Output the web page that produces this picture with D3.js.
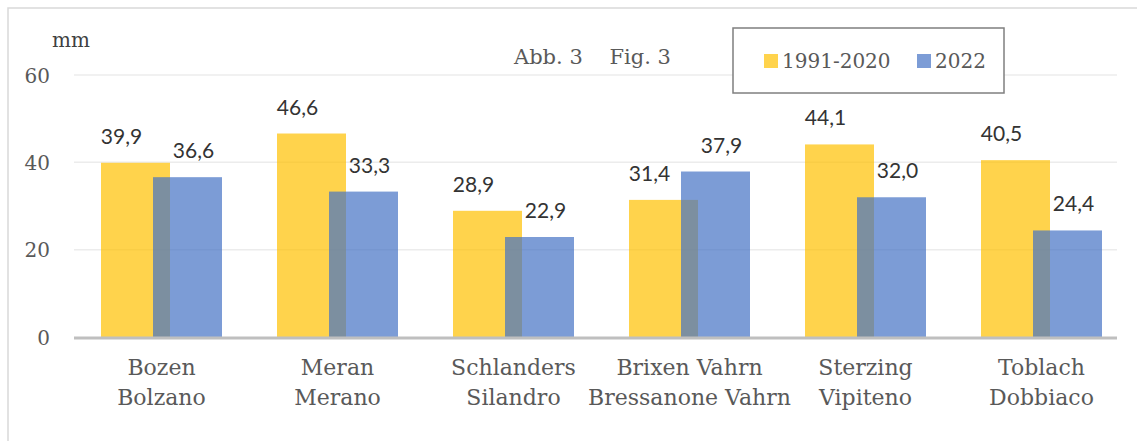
<!DOCTYPE html>
<html>
<head>
<meta charset="utf-8">
<script src="https://cdn.jsdelivr.net/npm/d3@7"></script>
<style>
  body { margin: 0; background: #fff; }
  svg text { white-space: pre; }
</style>
</head>
<body>
<div id="chart"></div>
<script>
var stations = [
    ["Bozen", "Bolzano"],
    ["Meran", "Merano"],
    ["Schlanders", "Silandro"],
    ["Brixen Vahrn", "Bressanone Vahrn"],
    ["Sterzing", "Vipiteno"],
    ["Toblach", "Dobbiaco"]
];
var normal = [39.9, 46.6, 28.9, 31.4, 44.1, 40.5];   // 1991-2020
var year2022 = [36.6, 33.3, 22.9, 37.9, 32.0, 24.4];
var seriesNames = ["1991-2020", "2022"];
var yTicks = [0, 20, 40, 60];

var width = 1137,
    height = 441;
var serif = "'DejaVu Serif', serif";
var sans = "Lato, 'Open Sans', sans-serif";
var colors = ["#FFC000", "#4472C4"];

var svg = d3.select("#chart").append("svg")
    .attr("width", width)
    .attr("height", height);

// chart area border
svg.append("rect")
    .attr("x", 8).attr("y", 8)
    .attr("width", width).attr("height", height)
    .attr("fill", "none")
    .attr("stroke", "#d9d9d9")
    .attr("stroke-width", 1.5);

var x = d3.scaleBand()
    .domain(d3.range(stations.length))
    .range([73.5, 1129.5]);

var y = d3.scaleLinear()
    .domain([0, 60])
    .range([337, 75]);

var barW = 69, overlap = 17;
var groupW = barW * 2 - overlap;
var plotRight = 1117;

// gridlines
svg.append("g")
    .selectAll("line")
    .data(yTicks.filter(function(d) { return d > 0; }))
    .enter().append("line")
    .attr("x1", 74).attr("x2", plotRight)
    .attr("y1", function(d) { return y(d); })
    .attr("y2", function(d) { return y(d); })
    .attr("stroke", "#ececec")
    .attr("stroke-width", 1.5);

// y axis labels
var yAxis = d3.axisLeft(y).tickValues(yTicks).tickSize(0).tickPadding(0);
var gy = svg.append("g")
    .attr("transform", "translate(50,0)")
    .call(yAxis);
gy.select(".domain").remove();
gy.selectAll("text")
    .attr("font-family", serif)
    .attr("font-size", 20)
    .attr("fill", "#595959")
    .attr("dy", "0.35em");

svg.append("text")
    .attr("x", 52).attr("y", 47)
    .attr("font-family", serif)
    .attr("font-size", 20)
    .attr("fill", "#404040")
    .text("mm");

// bars
var series = [normal, year2022];
series.forEach(function(vals, s) {
    svg.append("g")
        .selectAll("rect")
        .data(vals)
        .enter().append("rect")
        .attr("x", function(d, i) {
            return x(i) + x.bandwidth() / 2 - groupW / 2 + s * (barW - overlap);
        })
        .attr("y", function(d) { return y(d); })
        .attr("width", barW)
        .attr("height", function(d) { return y(0) - y(d); })
        .attr("fill", colors[s])
        .attr("fill-opacity", 0.7);
});

// baseline
svg.append("line")
    .attr("x1", 74).attr("x2", plotRight)
    .attr("y1", y(0) + 1).attr("y2", y(0) + 1)
    .attr("stroke", "#bfbfbf")
    .attr("stroke-width", 3);

// data labels
var labelShift = [-14, 6];
series.forEach(function(vals, s) {
    svg.append("g")
        .selectAll("text")
        .data(vals)
        .enter().append("text")
        .attr("x", function(d, i) {
            return x(i) + x.bandwidth() / 2 - groupW / 2 + s * (barW - overlap) + barW / 2 + labelShift[s];
        })
        .attr("y", function(d) { return y(d) - 19; })
        .attr("text-anchor", "middle")
        .attr("font-family", sans)
        .attr("font-size", 21)
        .attr("fill", "#333")
        .text(function(d) { return d3.format(".1f")(d).replace(".", ","); });
});

// category labels
var cat = svg.append("g")
    .selectAll("text")
    .data(stations)
    .enter().append("text")
    .attr("text-anchor", "middle")
    .attr("font-family", serif)
    .attr("font-size", 22)
    .attr("fill", "#595959");
cat.append("tspan")
    .attr("x", function(d, i) { return x(i) + x.bandwidth() / 2; })
    .attr("y", 375)
    .text(function(d) { return d[0]; });
cat.append("tspan")
    .attr("x", function(d, i) { return x(i) + x.bandwidth() / 2; })
    .attr("y", 405)
    .text(function(d) { return d[1]; });

// figure caption
svg.append("text")
    .attr("x", 514).attr("y", 64)
    .attr("font-family", serif)
    .attr("font-size", 21)
    .attr("fill", "#595959")
    .text("Abb. 3    Fig. 3");

// legend
var legend = svg.append("g");
legend.append("rect")
    .attr("x", 733).attr("y", 28)
    .attr("width", 271).attr("height", 65)
    .attr("fill", "#fff")
    .attr("stroke", "#7f7f7f")
    .attr("stroke-width", 1.5);
var legX = [764, 917];
seriesNames.forEach(function(name, s) {
    legend.append("rect")
        .attr("x", legX[s]).attr("y", 54)
        .attr("width", 14).attr("height", 14)
        .attr("fill", colors[s])
        .attr("fill-opacity", 0.7);
    legend.append("text")
        .attr("x", legX[s] + 18).attr("y", 68)
        .attr("font-family", serif)
        .attr("font-size", 20)
        .attr("fill", "#595959")
        .text(name);
});
</script>
</body>
</html>
